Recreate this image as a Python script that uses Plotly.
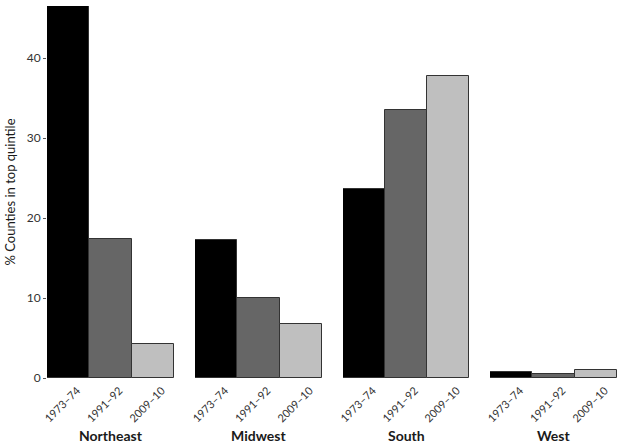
import plotly.graph_objects as go
from plotly.subplots import make_subplots

regions = ["Northeast", "Midwest", "South", "West"]
periods = ["1973–74", "1991–92", "2009–10"]
# % of counties in the top quintile, per region, in period order
northeast = [46.5, 17.4, 4.2]
midwest = [17.3, 10.0, 6.8]
south = [23.6, 33.5, 37.8]
west = [0.8, 0.5, 1.0]

y_ticks = [0, 10, 20, 30, 40]

_FILLS = ["#000000", "#666666", "#bfbfbf"]
_FONT = "Lato, 'Open Sans', sans-serif"

values = [northeast, midwest, south, west]

W, H = 624, 445
L, R, T, B = 47, 7, 6, 67
plot_w = W - L - R
plot_h = H - T - B
panels_px = [(47, 174), (195, 322), (343, 469), (490, 617)]

fig = make_subplots(rows=1, cols=4, shared_yaxes=True)

for i, (region, vals) in enumerate(zip(regions, values)):
    fig.add_trace(
        go.Bar(
            x=periods,
            y=vals,
            marker=dict(color=_FILLS, line=dict(color="#333333", width=1)),
            width=1,
            showlegend=False,
            hoverinfo="x+y",
            name=region,
        ),
        row=1,
        col=i + 1,
    )
    x0, x1 = panels_px[i]
    ax = "xaxis" if i == 0 else f"xaxis{i + 1}"
    fig.layout[ax].update(
        domain=[(x0 - L) / plot_w, (x1 - L) / plot_w],
        range=[-0.5, 2.5],
        tickangle=-45,
        tickfont=dict(size=11, color="#333333", family=_FONT),
        ticklabelstandoff=3,
        ticklabelshift=9,
        showline=False,
        showgrid=False,
        zeroline=False,
        ticks="",
        automargin=False,
        fixedrange=True,
    )
    fig.add_annotation(
        x=((x0 + x1) / 2 - L) / plot_w,
        xref="paper",
        y=(378 - 435) / plot_h,
        yref="paper",
        text=f"<b>{region}</b>",
        showarrow=False,
        font=dict(size=14, color="#1a1a1a", family=_FONT),
        xanchor="center",
        yanchor="middle",
    )

for i in range(4):
    ay = "yaxis" if i == 0 else f"yaxis{i + 1}"
    fig.layout[ay].update(
        range=[0, 46.5],
        showgrid=False,
        zeroline=False,
        showline=False,
        automargin=False,
        fixedrange=True,
    )

fig.layout.yaxis.update(
    tickvals=y_ticks,
    ticks="outside",
    ticklen=3,
    tickcolor="#555555",
    tickfont=dict(size=12, color="#333333", family=_FONT),
    title=dict(
        text="% Counties in top quintile",
        font=dict(size=13, color="#1a1a1a", family=_FONT),
        standoff=8,
    ),
)

fig.update_layout(
    width=W,
    height=H,
    margin=dict(l=L, r=R, t=T, b=B, autoexpand=False),
    plot_bgcolor="white",
    paper_bgcolor="white",
    bargap=0,
    font=dict(family=_FONT),
)

# drop the page's default body margin so the figure sits at the window corner
fig.write_html(
    "out.html",
    config={"displayModeBar": False},
    post_script="document.body.style.margin='0';document.body.style.overflow='hidden';",
)
